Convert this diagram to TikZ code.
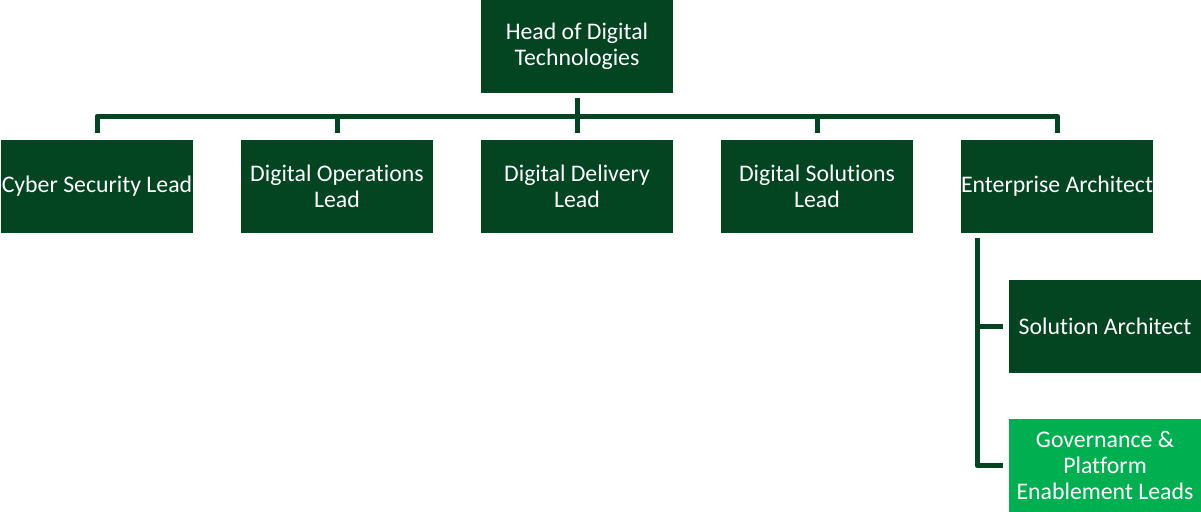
\documentclass[tikz,border=0pt]{standalone}
\usepackage{fontspec}
\setmainfont{Carlito}[Ligatures=NoCommon]
\definecolor{darkgreen}{RGB}{3,69,33}
\definecolor{brightgreen}{RGB}{0,176,80}
\begin{document}
\begin{tikzpicture}[x=1pt,y=-1pt,
  box/.style={rectangle, fill=darkgreen, text=white, minimum width=192pt,
    minimum height=93pt, inner sep=0pt, align=center,
    font=\fontsize{23.8}{26}\selectfont},
  lightbox/.style={box, fill=brightgreen},
  conn/.style={draw=darkgreen, line width=5pt, line join=round}]
\useasboundingbox (0,0) rectangle (1201,511);
% top level
\node[box] (head) at (577,46) {Head of Digital\\Technologies};
% second level
\node[box] (cyber) at (97,186.5) {Cyber Security Lead};
\node[box] (ops) at (337,186.5) {Digital Operations\\Lead};
\node[box] (delivery) at (577,186.5) {Digital Delivery\\Lead};
\node[box] (solutions) at (817,186.5) {Digital Solutions\\Lead};
\node[box] (enterprise) at (1057,186.5) {Enterprise Architect};
% reports of the enterprise architect
\node[box] (solution) at (1105,326.5) {Solution Architect};
\node[lightbox] (gov) at (1105,465.5) {Governance \&\\Platform\\Enablement Leads};
% connectors
\coordinate (bus) at (0,116);
\coordinate (spine) at (977,0);
\draw[conn] ([yshift=-5pt]head.south) -- ([yshift=7pt]delivery.north);
\draw[conn] ([yshift=7pt]cyber.north) |- (bus -| enterprise.north) -- ([yshift=7pt]enterprise.north);
\draw[conn] ([yshift=7pt]ops.north) -- (ops.north |- bus);
\draw[conn] ([yshift=7pt]solutions.north) -- (solutions.north |- bus);
\draw[conn] ([yshift=-5pt]enterprise.south -| spine) |- ([xshift=-6pt]gov.west);
\draw[conn] (spine |- solution.west) -- ([xshift=-6pt]solution.west);
\end{tikzpicture}
\end{document}
